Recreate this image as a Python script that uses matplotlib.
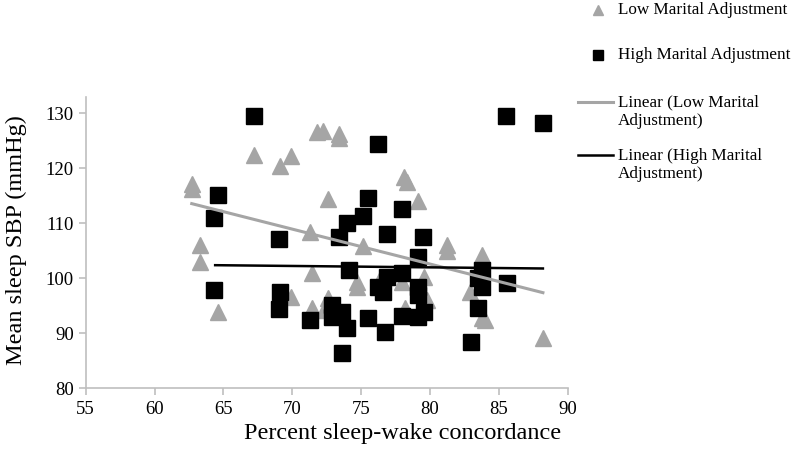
import matplotlib
matplotlib.use("Agg")
import matplotlib.pyplot as plt
from matplotlib.lines import Line2D

plt.rcParams['font.family'] = ['Liberation Serif', 'DejaVu Serif']

# Low marital adjustment (triangles)
low_x = [62.7, 62.7, 63.3, 63.3, 64.6, 67.2, 69.9, 69.1, 71.8, 71.3, 71.45, 69.9, 71.45,
         72.2, 73.4, 73.4, 78.1, 78.3, 72.6, 79.1, 75.1, 81.2, 81.2, 83.8, 82.9, 84.0,
         83.8, 88.2, 74.7, 74.7, 72.6, 78.0, 79.6, 79.8, 78.2, 76.4, 72.3]
low_y = [117.1, 116.2, 106.1, 102.9, 93.9, 122.4, 122.2, 120.4, 126.6, 108.5, 101.0, 96.6, 94.6,
         126.8, 126.3, 125.5, 118.4, 117.5, 114.4, 114.0, 105.8, 106.1, 104.9, 104.3, 97.5, 92.4,
         92.8, 89.1, 98.5, 99.4, 96.5, 99.4, 100.3, 96.1, 94.6, 99.8, 94.2]

# High marital adjustment (squares)
high_x = [67.2, 64.6, 64.35, 69.0, 76.2, 75.5, 78.0, 75.1, 74.0, 73.4, 76.9, 79.5, 85.5, 88.2,
          83.8, 83.5, 83.8, 85.6, 83.5, 83.0, 64.35, 69.1, 69.0, 71.3, 74.1, 79.1, 76.9, 78.0,
          76.2, 76.6, 79.1, 79.1, 79.6, 79.1, 78.0, 75.5, 76.7, 74.0, 72.9, 72.9, 73.6, 73.6]
high_y = [129.5, 115.1, 110.9, 107.2, 124.4, 114.7, 112.7, 111.3, 110.0, 107.6, 108.0, 107.6, 129.5, 128.3,
          101.6, 100.1, 98.5, 99.2, 94.6, 88.4, 97.9, 97.5, 94.4, 92.4, 101.6, 103.8, 100.3, 101.0,
          98.5, 97.6, 98.5, 97.0, 93.9, 93.0, 93.2, 92.8, 90.2, 91.0, 95.2, 93.0, 93.9, 86.4]

# Linear trend lines
low_fit_x = [62.7, 88.2]
low_fit_y = [113.6, 97.4]
high_fit_x = [64.4, 88.2]
high_fit_y = [102.4, 101.8]

x_ticks = [55, 60, 65, 70, 75, 80, 85, 90]
y_ticks = [80, 90, 100, 110, 120, 130]

GRAY = '#a5a5a5'
AXC = '#bfbfbf'

fig = plt.figure(figsize=(8, 4.58), dpi=100)
ax = fig.add_axes([85.7/800, 1-388.3/458, (567.7-85.7)/800, (388.3-97)/458])

ax.plot(low_x, low_y, linestyle='none', marker='^', ms=11, color=GRAY, mec=GRAY, zorder=2)
ax.plot(high_x, high_y, linestyle='none', marker='s', ms=11.5, color='black', mec='black', zorder=3)
ax.plot(low_fit_x, low_fit_y, color=GRAY, lw=2.2, zorder=4)
ax.plot(high_fit_x, high_fit_y, color='black', lw=1.8, zorder=4)

ax.set_xlim(55, 90)
ax.set_ylim(80, 133)
ax.set_xticks(x_ticks)
ax.set_yticks(y_ticks)
for s in ['top', 'right']:
    ax.spines[s].set_visible(False)
for s in ['left', 'bottom']:
    ax.spines[s].set_color(AXC)
    ax.spines[s].set_linewidth(1.2)
ax.tick_params(axis='both', colors=AXC, labelcolor='black', labelsize=13.5, length=5, width=1.2, direction='out')
ax.tick_params(axis='x', pad=4)

def fx(px):
    return px / 800
def fy(py):
    return 1 - py / 458

fig.text(fx(403), fy(433), 'Percent sleep-wake concordance', fontsize=17.5, ha='center', va='center')
fig.text(fx(16), fy(240), 'Mean sleep SBP (mmHg)', fontsize=17.5, ha='center', va='center', rotation=90)

# Legend (outside right)
fig.add_artist(Line2D([fx(598)], [fy(10)], marker='^', ms=7, color=GRAY, linestyle='none'))
fig.add_artist(Line2D([fx(598)], [fy(55)], marker='s', ms=7, color='black', linestyle='none'))
fig.add_artist(Line2D([fx(578), fx(613)], [fy(102), fy(102)], color=GRAY, lw=2.2))
fig.add_artist(Line2D([fx(578), fx(613)], [fy(155), fy(155)], color='black', lw=1.8))
leg_fs = 12.3
fig.text(fx(618), fy(10), 'Low Marital Adjustment', fontsize=leg_fs, va='center', ha='left')
fig.text(fx(618), fy(55), 'High Marital Adjustment', fontsize=leg_fs, va='center', ha='left')
fig.text(fx(618), fy(112), 'Linear (Low Marital\nAdjustment)', fontsize=leg_fs, va='center', ha='left', linespacing=1.2)
fig.text(fx(618), fy(165), 'Linear (High Marital\nAdjustment)', fontsize=leg_fs, va='center', ha='left', linespacing=1.2)

fig.savefig('out.png', dpi=100)
